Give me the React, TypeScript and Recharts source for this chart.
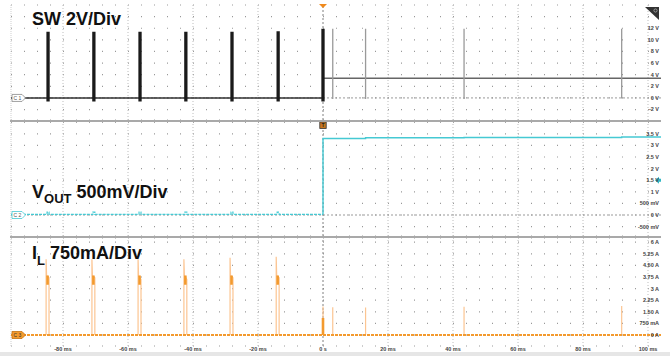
import React from 'react';
import {
  CartesianGrid,
  Line,
  LineChart,
  ReferenceDot,
  ReferenceLine,
  XAxis,
  YAxis,
} from 'recharts';

// time base (ms)
const timeDomain: [number, number] = [-96, 104];
const timeTicks = [-80, -60, -40, -20, 0, 20, 40, 60, 80, 100];
const timeTickLabels = ['-80 ms', '-60 ms', '-40 ms', '-20 ms', '0 s', '20 ms', '40 ms', '60 ms', '80 ms', '100 ms'];

// SW channel (V)
const swTicks = [-2, 0, 2, 4, 6, 8, 10, 12, 14, 16];
const swTickLabels = ['-2 V', '0 V', '2 V', '4 V', '6 V', '8 V', '10 V', '12 V', '', ''];
const swBurstTimes = [-84.6, -70.5, -56.3, -42.2, -28.0, -13.8];
const swBurstHigh = [11.4, 11.4, 11.4, 11.4, 11.4, 11.5];
const swBurstLow = [-0.6, -0.6, -0.6, -0.6, -0.6, -0.6];
const swStartHigh = 11.9;
const swSettled = 3.4;
const swPulseTimes = [3.0, 13.1, 43.4, 91.9];
const swPulseHigh = [11.9, 11.9, 11.9, 11.9];
const swPulseLow = [-0.2, -0.2, -0.2, -0.1];

// VOUT channel (V)
const voutTicks = [-0.5, 0, 0.5, 1, 1.5, 2, 2.5, 3, 3.5, 4];
const voutTickLabels = ['-500 mV', '0 V', '500 mV', '1 V', '1.5 V', '2 V', '2.5 V', '3 V', '3.5 V', ''];
const voutIdle = 0.03;
const voutBump = [0.12, 0.12, 0.12, 0.12, 0.12, 0.12];
const voutStepTimes = [0, 13.1, 43.4, 91.9];
const voutStepLevels = [3.3, 3.33, 3.34, 3.36];

// IL channel (A)
const ilTicks = [0, 0.75, 1.5, 2.25, 3, 3.75, 4.5, 5.25, 6];
const ilTickLabels = ['0 A', '750 mA', '1.50 A', '2.25 A', '3 A', '3.75 A', '4.50 A', '5.25 A', '6 A'];
const ilBurstPeak = [4.9, 4.9, 4.9, 4.9, 5.0, 5.05];
const ilBurstTail = [3.7, 3.7, 3.6, 3.6, 3.7, 3.7];
const ilBandLow = [3.25, 3.25, 3.25, 3.25, 3.25, 3.25];
const ilBandHigh = [3.85, 3.85, 3.85, 3.85, 3.85, 3.85];
const ilPulseTimes = [0, 3.0, 13.1, 43.4, 91.9];
const ilPulsePeak = [1.85, 1.8, 1.78, 1.83, 1.87];

type Pt = { t: number; v: number | null };

const swBaseData: Pt[] = [
  { t: timeDomain[0], v: 0 },
  { t: 0, v: 0 },
];

const swBurstData: Pt[] = [];
swBurstTimes.forEach((t, i) => {
  swBurstData.push({ t, v: swBurstHigh[i] }, { t, v: swBurstLow[i] }, { t: t + 0.01, v: null });
});
swBurstData.push({ t: 0, v: -0.6 }, { t: 0, v: swStartHigh });

const swSettledData: Pt[] = [
  { t: 0, v: swSettled },
  { t: timeDomain[1], v: swSettled },
];

const swPulseData: Pt[] = [];
swPulseTimes.forEach((t, i) => {
  swPulseData.push({ t, v: swPulseHigh[i] }, { t, v: swPulseLow[i] }, { t: t + 0.01, v: null });
});

const voutPreData: Pt[] = [{ t: timeDomain[0], v: voutIdle }];
swBurstTimes.forEach((t, i) => {
  voutPreData.push(
    { t: t - 0.3, v: voutIdle },
    { t: t - 0.3, v: voutBump[i] },
    { t: t + 0.3, v: voutBump[i] },
    { t: t + 0.3, v: voutIdle },
  );
});
voutPreData.push({ t: 0, v: voutIdle });

const voutPostData: Pt[] = [{ t: 0, v: voutIdle }];
voutStepTimes.forEach((t, i) => {
  if (i > 0) voutPostData.push({ t, v: voutStepLevels[i - 1] });
  voutPostData.push({ t, v: voutStepLevels[i] });
});
voutPostData.push({ t: timeDomain[1], v: voutStepLevels[voutStepLevels.length - 1] });

const ilBaseData: Pt[] = [
  { t: timeDomain[0], v: 0 },
  { t: timeDomain[1], v: 0 },
];

const ilSpikeData: Pt[] = [];
swBurstTimes.forEach((t, i) => {
  ilSpikeData.push(
    { t: t - 0.6, v: 0 },
    { t: t - 0.6, v: ilBurstPeak[i] },
    { t: t - 0.45, v: ilBandHigh[i] },
    { t: t + 0.3, v: ilBurstTail[i] },
    { t: t + 0.3, v: 0 },
    { t: t + 0.31, v: null },
  );
});
ilPulseTimes.forEach((t, i) => {
  ilSpikeData.push({ t, v: 0 }, { t, v: ilPulsePeak[i] }, { t: t + 0.01, v: null });
});

const ilBandData: Pt[] = [];
swBurstTimes.forEach((t, i) => {
  ilBandData.push({ t: t - 0.15, v: ilBandLow[i] }, { t: t - 0.15, v: ilBandHigh[i] }, { t: t - 0.14, v: null });
});
ilBandData.push({ t: 0, v: 0 }, { t: 0, v: 1.1 });

const FONT = '"Liberation Sans", Arial, sans-serif';
const GRID = '#999';
const CYAN = '#45c9d3';
const ORANGE = '#f39a2e';
const ORANGE_LIGHT = '#fcc592';

const tickStyle = { fontSize: 5.5, fill: '#444', fontFamily: FONT, fontWeight: 700 };

function labelFor(ticks: number[], labels: string[]) {
  return (value: number) => {
    const i = ticks.findIndex((t) => Math.abs(t - value) < 1e-6);
    return i >= 0 ? labels[i] : '';
  };
}

function ChannelBadge({ cx, cy, name, stroke, fill, text }: any) {
  const x = cx + 1;
  return (
    <g>
      <path
        d={`M${x},${cy - 3.5} L${x + 10},${cy - 3.5} L${x + 13.5},${cy} L${x + 10},${cy + 3.5} L${x},${cy + 3.5} Z`}
        fill={fill}
        stroke={stroke}
        strokeWidth={0.8}
      />
      <text x={x + 5.5} y={cy + 1.8} fontSize={5} fontFamily={FONT} fill={text} textAnchor="middle">
        {name}
      </text>
    </g>
  );
}

// dotted scope graticule: rows of dots plus dotted major time divisions
function Graticule() {
  return (
    <>
      <CartesianGrid vertical={false} stroke={GRID} strokeWidth={1.2} strokeDasharray="1 12" />
      <ReferenceLine x={timeDomain[0]} stroke="#cfcfcf" strokeDasharray="1 1" />
      {timeTicks.map((t) => (
        <ReferenceLine key={t} x={t} stroke={t === 0 ? '#808080' : '#bdbdbd'} strokeDasharray={t === 0 ? '2 2' : '1 2'} />
      ))}
    </>
  );
}

const chartBox = (top: number): React.CSSProperties => ({ position: 'absolute', left: 0, top });

const yAxisCommon = {
  type: 'number' as const,
  orientation: 'right' as const,
  mirror: true,
  allowDataOverflow: true,
  interval: 0 as const,
  tick: tickStyle,
  tickLine: false,
  axisLine: false,
  tickSize: 0,
  tickMargin: 2,
};

function SwPanel() {
  return (
    <LineChart width={670} height={121} margin={{ top: 5, right: 9, bottom: 1, left: 11 }} style={chartBox(0)}>
      {Graticule()}
      <XAxis type="number" dataKey="t" domain={timeDomain} ticks={timeTicks} allowDataOverflow hide />
      <YAxis {...yAxisCommon} domain={[-3.8, 16]} ticks={swTicks} tickFormatter={labelFor(swTicks, swTickLabels)} />
      <ReferenceLine y={0} stroke="#999" strokeDasharray="2 2" />
      <Line data={swSettledData} dataKey="v" stroke="#666" strokeWidth={1.5} dot={false} isAnimationActive={false} />
      <Line data={swPulseData} dataKey="v" stroke="#9a9a9a" strokeWidth={1.3} dot={false} isAnimationActive={false} />
      <Line data={swBaseData} dataKey="v" stroke="#333" strokeWidth={1.4} dot={false} isAnimationActive={false} />
      <Line data={swBurstData} dataKey="v" stroke="#1a1a1a" strokeWidth={3.3} dot={false} isAnimationActive={false} />
      <ReferenceDot
        x={timeDomain[0]}
        y={0}
        ifOverflow="visible"
        shape={(p: any) => <ChannelBadge {...p} name="C 1" stroke="#888" fill="#fff" text="#555" />}
      />
      <ReferenceDot
        x={0}
        y={16}
        ifOverflow="visible"
        shape={(p: any) => (
          <path d={`M${p.cx - 4},${p.cy - 1} L${p.cx + 4},${p.cy - 1} L${p.cx},${p.cy + 3} Z`} fill="#f08a1c" />
        )}
      />
      <ReferenceDot
        x={timeDomain[1]}
        y={16}
        ifOverflow="visible"
        shape={(p: any) => (
          <g>
            <path d={`M${p.cx - 16},${p.cy + 2} L${p.cx - 2},${p.cy + 2} L${p.cx - 2},${p.cy + 15} Z`} fill="#333" />
            <circle cx={p.cx - 5.5} cy={p.cy + 5.5} r={1.6} fill="none" stroke="#ccc" strokeWidth={0.6} />
          </g>
        )}
      />
    </LineChart>
  );
}

function VoutPanel() {
  return (
    <LineChart width={670} height={115} margin={{ top: 1, right: 9, bottom: 0, left: 11 }} style={chartBox(121)}>
      {Graticule()}
      <XAxis type="number" dataKey="t" domain={timeDomain} ticks={timeTicks} allowDataOverflow hide />
      <YAxis {...yAxisCommon} domain={[-0.905, 4.009]} ticks={voutTicks} tickFormatter={labelFor(voutTicks, voutTickLabels)} />
      <ReferenceLine y={0} stroke="#999" strokeDasharray="2 2" />
      <Line data={voutPreData} dataKey="v" stroke={CYAN} strokeWidth={1.2} strokeDasharray="3 1" dot={false} isAnimationActive={false} />
      <Line data={voutPostData} dataKey="v" stroke={CYAN} strokeWidth={1.4} dot={false} isAnimationActive={false} />
      <ReferenceDot
        x={timeDomain[0]}
        y={0}
        ifOverflow="visible"
        shape={(p: any) => <ChannelBadge {...p} name="C 2" stroke={CYAN} fill="#fff" text="#555" />}
      />
      <ReferenceDot
        x={0}
        y={4.009}
        ifOverflow="visible"
        shape={(p: any) => (
          <g>
            <rect x={p.cx - 3.2} y={p.cy} width={6.4} height={6.5} fill="#c8761e" stroke="#333" strokeWidth={0.8} />
            <text x={p.cx} y={p.cy + 5.3} fontSize={5} fontFamily={FONT} fill="#222" textAnchor="middle" fontWeight={700}>
              T
            </text>
          </g>
        )}
      />
      <ReferenceDot
        x={timeDomain[1]}
        y={1.5}
        ifOverflow="visible"
        shape={(p: any) => (
          <path
            d={`M${p.cx - 6},${p.cy} L${p.cx - 2},${p.cy - 3.5} L${p.cx - 2},${p.cy - 1.5} L${p.cx},${p.cy - 1.5} L${p.cx},${p.cy + 1.5} L${p.cx - 2},${p.cy + 1.5} L${p.cx - 2},${p.cy + 3.5} Z`}
            fill="#2fb8c4"
          />
        )}
      />
    </LineChart>
  );
}

function IlPanel() {
  return (
    <LineChart width={670} height={119} margin={{ top: 1, right: 9, bottom: 0, left: 11 }} style={chartBox(237)}>
      {Graticule()}
      <XAxis
        type="number"
        dataKey="t"
        domain={timeDomain}
        ticks={timeTicks}
        allowDataOverflow
        interval={0}
        tickFormatter={labelFor(timeTicks, timeTickLabels)}
        tick={tickStyle}
        tickLine={false}
        axisLine={false}
        tickSize={0}
        tickMargin={1}
        height={10}
      />
      <YAxis {...yAxisCommon} domain={[-0.711, 6.27]} ticks={ilTicks} tickFormatter={labelFor(ilTicks, ilTickLabels)} />
      <Line data={ilSpikeData} dataKey="v" stroke={ORANGE_LIGHT} strokeWidth={1.2} dot={false} isAnimationActive={false} />
      <Line data={ilBandData} dataKey="v" stroke={ORANGE} strokeWidth={2.6} dot={false} isAnimationActive={false} />
      <Line data={ilBaseData} dataKey="v" stroke={ORANGE} strokeWidth={1.8} strokeDasharray="3 1" dot={false} isAnimationActive={false} />
      <ReferenceDot
        x={timeDomain[0]}
        y={0}
        ifOverflow="visible"
        shape={(p: any) => <ChannelBadge {...p} name="C 3" stroke="#c4700f" fill={ORANGE} text="#333" />}
      />
    </LineChart>
  );
}

const titleStyle: React.CSSProperties = {
  position: 'absolute',
  left: 32,
  fontFamily: FONT,
  fontWeight: 700,
  fontSize: 18,
  lineHeight: '18px',
  color: '#111',
  whiteSpace: 'nowrap',
};

const subStyle: React.CSSProperties = { fontSize: 13, position: 'relative', top: 5 };

export default function App() {
  return (
    <div style={{ position: 'relative', width: 670, height: 356, background: '#fff', overflow: 'hidden' }}>
      <style>{'body{margin:0}'}</style>
      <SwPanel />
      <VoutPanel />
      <IlPanel />
      <div style={{ position: 'absolute', left: 10, top: 119.5, width: 651, height: 2, background: '#a9a9a9' }} />
      <div style={{ position: 'absolute', left: 10, top: 235.5, width: 651, height: 2, background: '#a9a9a9' }} />
      <div style={{ position: 'absolute', left: 0, top: 352, width: 670, height: 4, background: '#e6e6e6' }} />
      <div style={{ ...titleStyle, top: 10 }}>SW 2V/Div</div>
      <div style={{ ...titleStyle, top: 182.5 }}>
        V<span style={subStyle}>OUT</span> 500mV/Div
      </div>
      <div style={{ ...titleStyle, top: 244 }}>
        I<span style={{ ...subStyle, top: 6 }}>L</span> 750mA/Div
      </div>
    </div>
  );
}
